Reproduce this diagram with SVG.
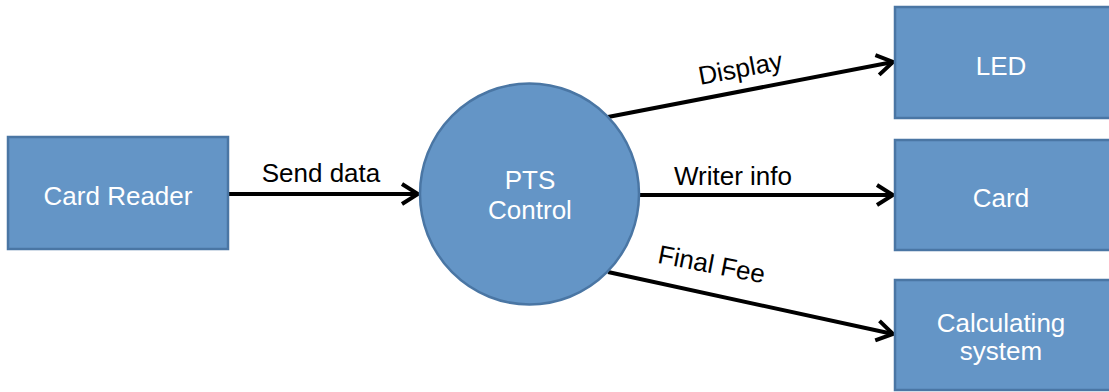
<svg xmlns="http://www.w3.org/2000/svg" width="1109" height="392" viewBox="0 0 1109 392">
<defs>
<style>
.node{fill:#6495C6;stroke:#4A76A4;stroke-width:2.5}
.nt{fill:#ffffff;font-family:"Liberation Sans",Arial,sans-serif;font-size:26px;text-anchor:middle}
.lt{fill:#000000;font-family:"Liberation Sans",Arial,sans-serif;font-size:26px;text-anchor:middle}
.conn{stroke:#000000;stroke-width:4;fill:none}
</style>
<marker id="arr" viewBox="0 0 20 24" refX="18" refY="12" markerWidth="20" markerHeight="24" markerUnits="userSpaceOnUse" orient="auto">
<path d="M2,2 L18,12 L2,22" fill="none" stroke="#000" stroke-width="4"/>
</marker>
</defs>
<rect width="1109" height="392" fill="#ffffff"/>
<g id="connectors">
<line class="conn" x1="228" y1="194" x2="418" y2="194" marker-end="url(#arr)"/>
<line class="conn" x1="608" y1="117" x2="893" y2="62" marker-end="url(#arr)"/>
<line class="conn" x1="639" y1="195" x2="893" y2="195" marker-end="url(#arr)"/>
<line class="conn" x1="608" y1="272" x2="893" y2="334" marker-end="url(#arr)"/>
<text class="lt" x="321" y="182">Send data</text>
<text class="lt" x="742" y="77" transform="rotate(-10.8 742 77)">Display</text>
<text class="lt" x="733" y="185">Writer info</text>
<text class="lt" x="710" y="273" transform="rotate(11 710 273)">Final Fee</text>
</g>
<g id="card-reader">
<rect class="node" x="8" y="137" width="220" height="112"/>
<text class="nt" x="118" y="205">Card Reader</text>
</g>
<g id="pts-control">
<ellipse class="node" cx="529.5" cy="194" rx="109.5" ry="110.5"/>
<text class="nt" x="530" y="189">PTS</text>
<text class="nt" x="530" y="219">Control</text>
</g>
<g id="led">
<rect class="node" x="895" y="7" width="222" height="111"/>
<text class="nt" x="1001" y="75">LED</text>
</g>
<g id="card">
<rect class="node" x="895" y="140" width="222" height="110"/>
<text class="nt" x="1001" y="207">Card</text>
</g>
<g id="calculating-system">
<rect class="node" x="895" y="280" width="222" height="110"/>
<text class="nt" x="1001" y="332">Calculating</text>
<text class="nt" x="1001" y="360">system</text>
</g>
</svg>
